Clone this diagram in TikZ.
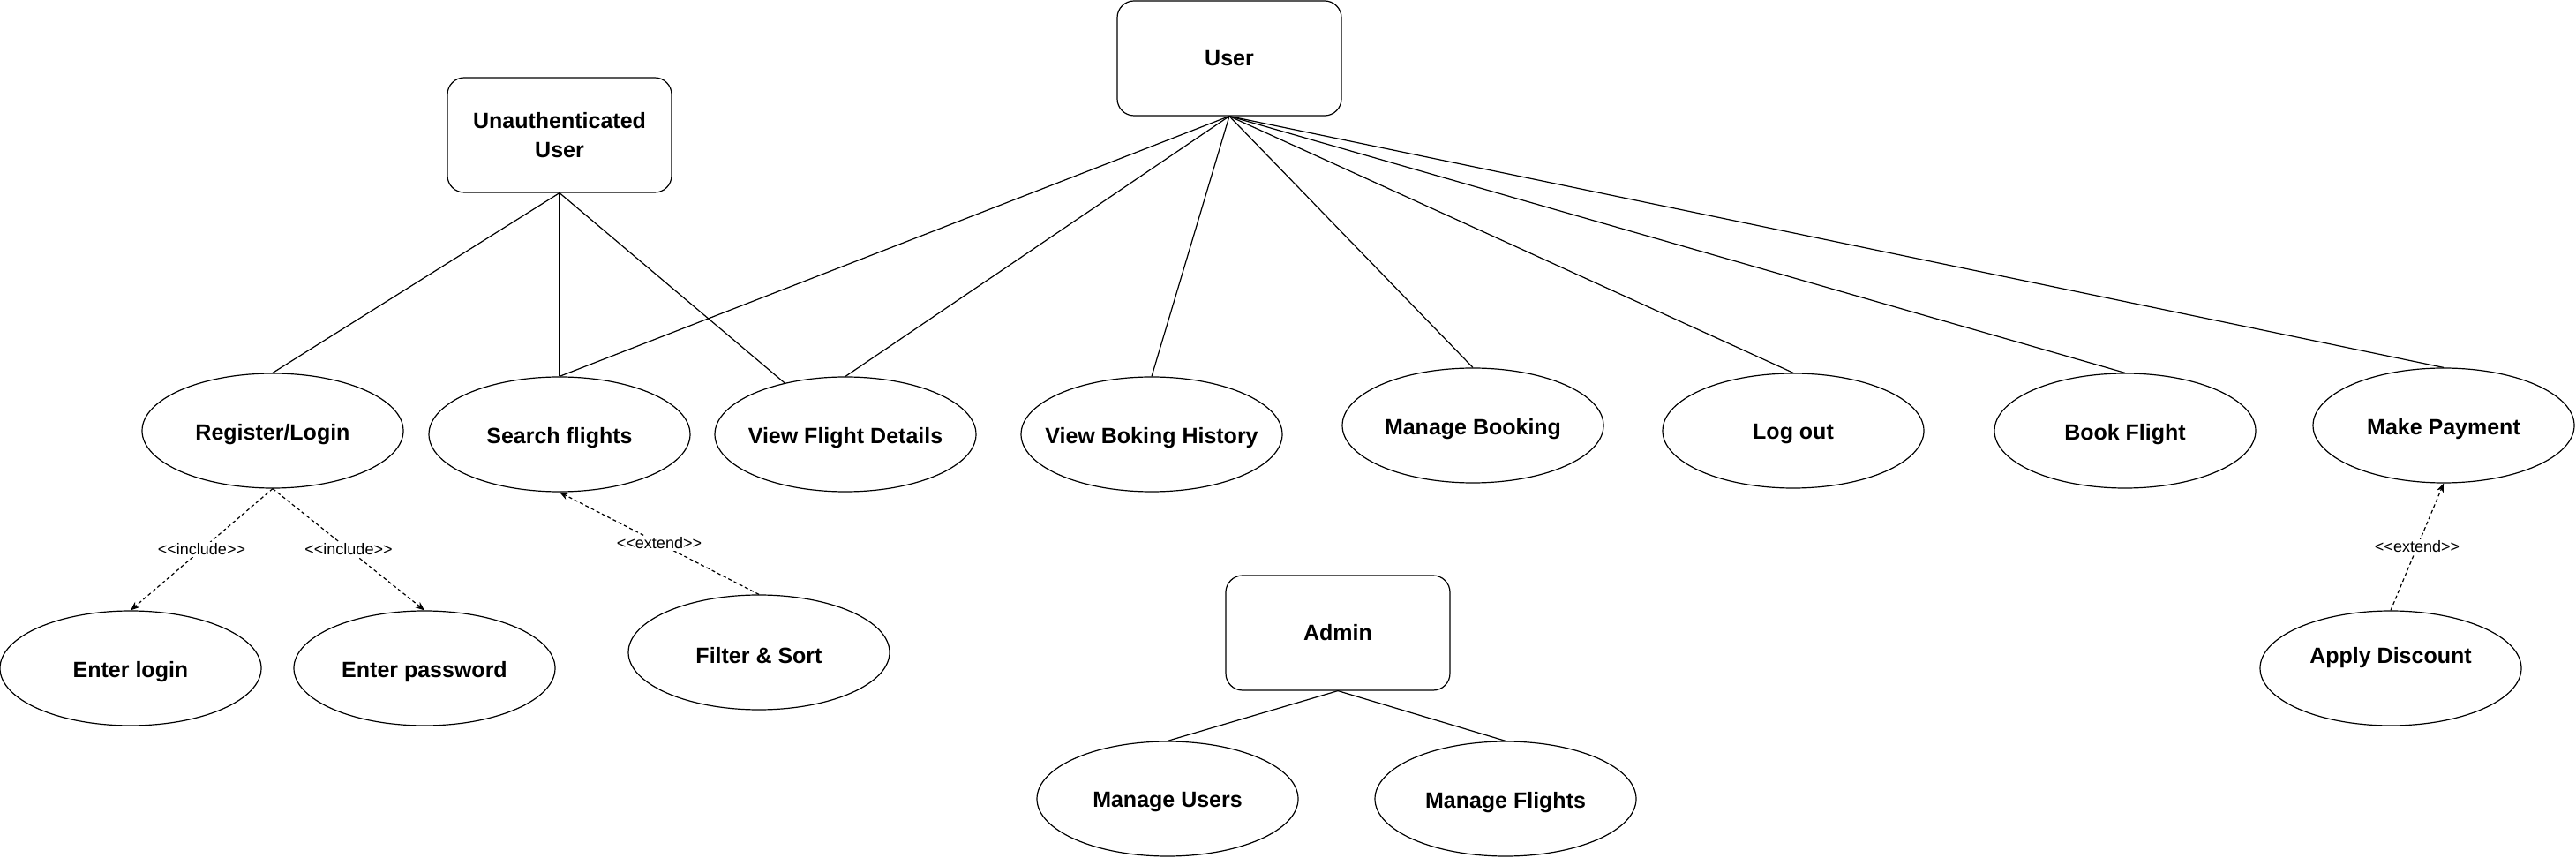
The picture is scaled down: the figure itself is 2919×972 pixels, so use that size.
\documentclass[tikz,border=0pt]{standalone}
\usepackage{fontspec}
\setmainfont{Liberation Sans}
\newfontfamily\lblfont{Liberation Sans}[Ligatures=TeXOff]
\usetikzlibrary{shapes.geometric,arrows.meta}
\begin{document}
\begin{tikzpicture}[x=0.5pt,y=-0.5pt,
  actorbox/.style={draw, rounded corners=9.5pt, minimum width=127pt, minimum height=65pt, inner sep=0pt, font=\fontsize{12.5}{16.5}\selectfont\bfseries, align=center, line width=0.6pt},
  usecase/.style={draw, ellipse, minimum width=148pt, minimum height=65pt, inner sep=0pt, line width=0.6pt},
  uclabel/.style={font=\fontsize{12.5}{15}\selectfont\bfseries, yshift=-1.8pt},
  assoc/.style={line width=0.6pt},
  dep/.style={line width=0.6pt, dash pattern=on 2pt off 1.5pt, -{Stealth[length=5pt,width=4pt,inset=1.5pt]}},
  deplabel/.style={font=\lblfont\fontsize{9}{11}\selectfont, fill=white, inner sep=1pt}]
\useasboundingbox (0,0) rectangle (2919,972);
\fill[white] (0,0) rectangle (2919,972);

% actors
\node[actorbox] (user) at (1393,66) {User};
\node[actorbox] (unauth) at (634,153) {Unauthenticated\\User};
\node[actorbox] (admin) at (1516,717) {Admin};

% use cases
\node[usecase, label={[uclabel]center:Register/Login}] (register) at (309,488) {};
\node[usecase, label={[uclabel]center:Search flights}] (search) at (634,492) {};
\node[usecase, label={[uclabel]center:View Flight Details}] (vfd) at (958,492) {};
\node[usecase, label={[uclabel]center:View Boking History}] (history) at (1305,492) {};
\node[usecase, label={[uclabel]center:Manage Booking}] (mbook) at (1669,482) {};
\node[usecase, label={[uclabel]center:Log out}] (logout) at (2032,488) {};
\node[usecase, label={[uclabel]center:Book Flight}] (book) at (2408,488) {};
\node[usecase, label={[uclabel]center:Make Payment}] (pay) at (2769,482) {};
\node[usecase, label={[uclabel]center:Enter login}] (elogin) at (148,757) {};
\node[usecase, label={[uclabel]center:Enter password}] (epass) at (481,757) {};
\node[usecase, label={[uclabel]center:Filter \& Sort}] (filter) at (860,739) {};
\node[usecase, label={[uclabel, yshift=8pt]center:Apply Discount}] (discount) at (2709,757) {};
\node[usecase, label={[uclabel]center:Manage Users}] (musers) at (1323,905) {};
\node[usecase, label={[uclabel]center:Manage Flights}] (mflights) at (1706,905) {};

% associations
\draw[assoc] (user.south) -- (search.north);
\draw[assoc] (user.south) -- (vfd.north);
\draw[assoc] (user.south) -- (history.north);
\draw[assoc] (user.south) -- (mbook.north);
\draw[assoc] (user.south) -- (logout.north);
\draw[assoc] (user.south) -- (book.north);
\draw[assoc] (user.south) -- (pay.north);
\draw[assoc] (unauth.south) -- (register.north);
\draw[assoc] (unauth.south) -- (search.north);
\draw[assoc] (unauth.south) -- (vfd);
\draw[assoc] (admin.south) -- (musers.north);
\draw[assoc] (admin.south) -- (mflights.north);

% dependencies
\draw[dep] (register.south) -- node[deplabel]{<<include>>} (elogin.north);
\draw[dep] (register.south) -- node[deplabel]{<<include>>} (epass.north);
\draw[dep] (filter.north) -- node[deplabel]{<<extend>>} (search.south);
\draw[dep] (discount.north) -- node[deplabel]{<<extend>>} (pay.south);
\end{tikzpicture}
\end{document}
